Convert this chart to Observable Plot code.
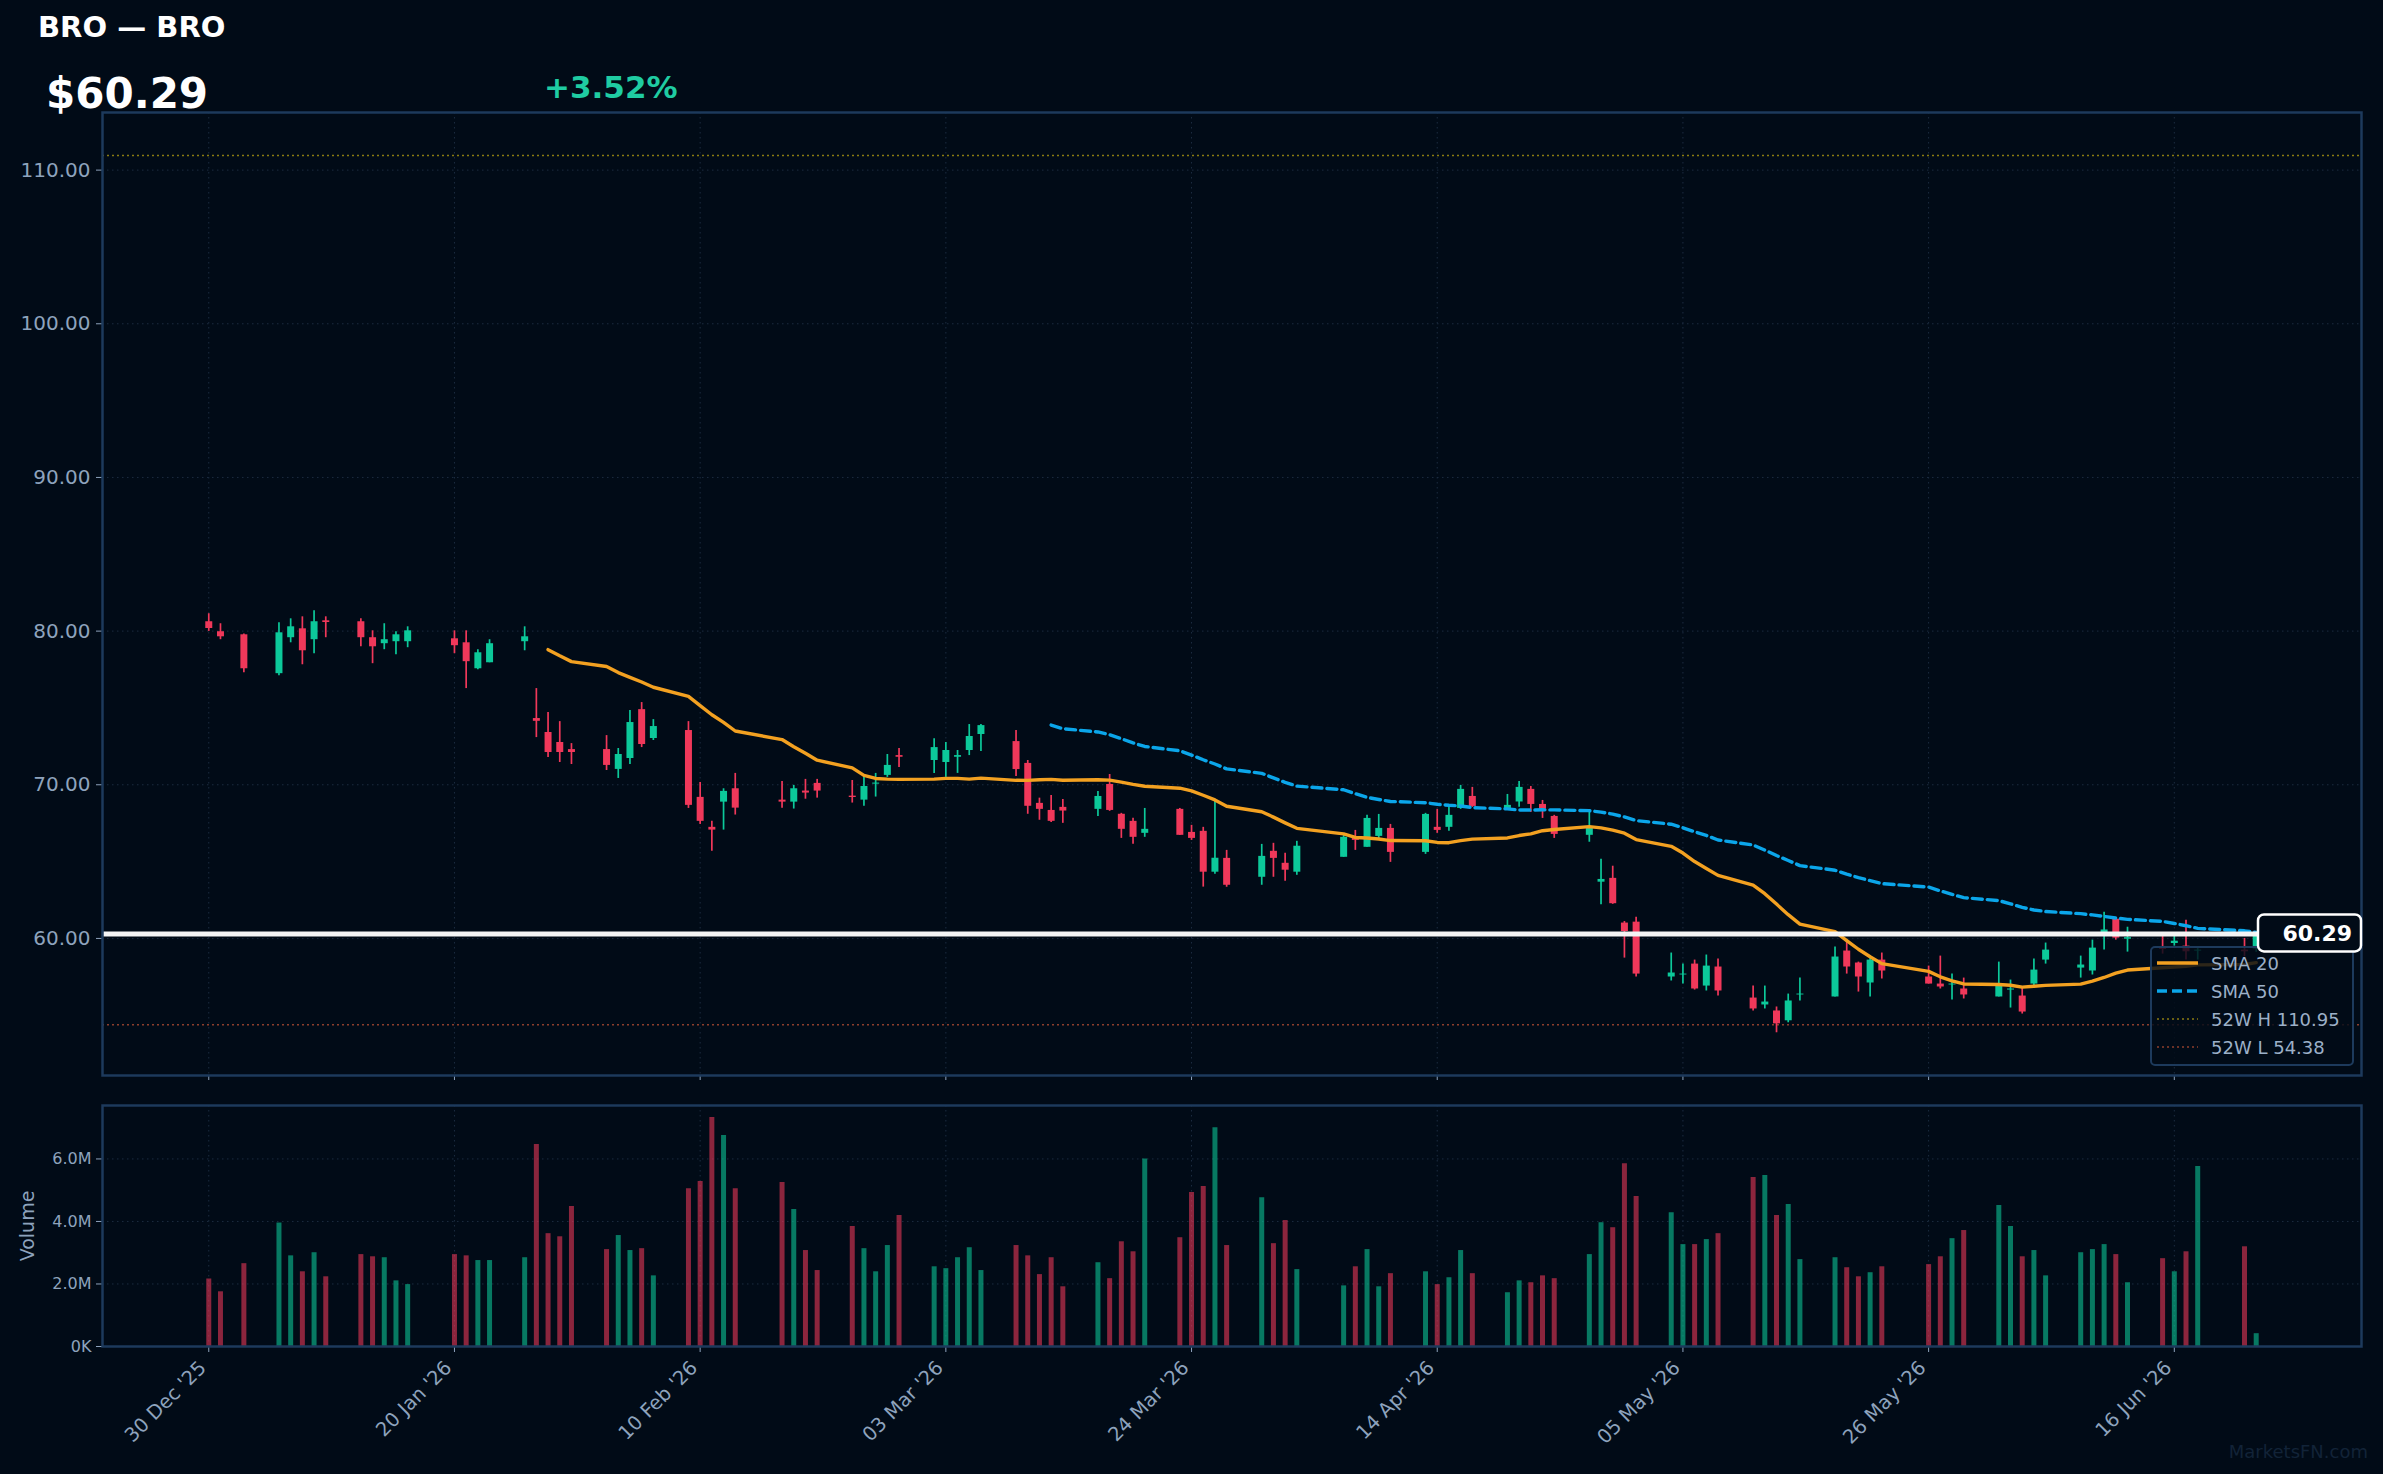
<!DOCTYPE html>
<html><head><meta charset="utf-8">
<script src="https://cdn.jsdelivr.net/npm/d3@7"></script>
<script src="https://cdn.jsdelivr.net/npm/@observablehq/plot@0.6"></script>
<style>
html,body{margin:0;padding:0;background:#010b17;}
#root{position:relative;width:2383px;height:1474px;background:#010b17;overflow:hidden;font-family:"DejaVu Sans",sans-serif;}
#root svg{position:absolute;left:0;}
</style></head><body><div id="root"></div>
<script>
// ---------- data ----------
const ticker = "BRO";
const lastPrice = 60.29;
const changeText = "+3.52%";
const high52 = 110.95;
const low52 = 54.38;
const dates = ["2025-12-30","2025-12-31","2026-01-02","2026-01-05","2026-01-06","2026-01-07","2026-01-08","2026-01-09","2026-01-12","2026-01-13","2026-01-14","2026-01-15","2026-01-16","2026-01-20","2026-01-21","2026-01-22","2026-01-23","2026-01-26","2026-01-27","2026-01-28","2026-01-29","2026-01-30","2026-02-02","2026-02-03","2026-02-04","2026-02-05","2026-02-06","2026-02-09","2026-02-10","2026-02-11","2026-02-12","2026-02-13","2026-02-17","2026-02-18","2026-02-19","2026-02-20","2026-02-23","2026-02-24","2026-02-25","2026-02-26","2026-02-27","2026-03-02","2026-03-03","2026-03-04","2026-03-05","2026-03-06","2026-03-09","2026-03-10","2026-03-11","2026-03-12","2026-03-13","2026-03-16","2026-03-17","2026-03-18","2026-03-19","2026-03-20","2026-03-23","2026-03-24","2026-03-25","2026-03-26","2026-03-27","2026-03-30","2026-03-31","2026-04-01","2026-04-02","2026-04-06","2026-04-07","2026-04-08","2026-04-09","2026-04-10","2026-04-13","2026-04-14","2026-04-15","2026-04-16","2026-04-17","2026-04-20","2026-04-21","2026-04-22","2026-04-23","2026-04-24","2026-04-27","2026-04-28","2026-04-29","2026-04-30","2026-05-01","2026-05-04","2026-05-05","2026-05-06","2026-05-07","2026-05-08","2026-05-11","2026-05-12","2026-05-13","2026-05-14","2026-05-15","2026-05-18","2026-05-19","2026-05-20","2026-05-21","2026-05-22","2026-05-26","2026-05-27","2026-05-28","2026-05-29","2026-06-01","2026-06-02","2026-06-03","2026-06-04","2026-06-05","2026-06-08","2026-06-09","2026-06-10","2026-06-11","2026-06-12","2026-06-15","2026-06-16","2026-06-17","2026-06-18","2026-06-22","2026-06-23"];
const opens = [80.61,79.96,79.76,77.23,79.57,80.15,79.44,80.67,80.61,79.57,79.18,79.31,79.31,79.50,79.24,77.55,77.94,79.31,74.31,73.40,72.75,72.29,72.29,71.00,71.71,74.89,73.01,73.53,69.18,67.23,68.87,69.74,69.00,68.87,69.59,70.09,69.26,69.00,70.04,70.61,71.90,71.58,71.45,71.79,72.23,73.27,72.81,71.39,68.79,68.33,68.53,68.40,70.02,68.08,67.62,66.84,68.40,66.90,66.97,64.31,65.21,63.98,65.67,64.89,64.31,65.28,66.58,65.93,66.64,67.16,65.60,67.23,67.23,68.46,69.24,68.46,68.88,69.70,68.72,67.94,66.71,63.66,63.91,61.00,61.06,57.49,57.62,58.33,56.90,58.14,56.12,55.67,55.28,54.64,56.32,56.19,59.18,58.40,57.10,58.59,57.49,57.03,56.97,56.71,56.19,56.64,56.25,57.03,58.59,58.07,57.88,60.25,61.25,59.95,59.46,59.67,59.50,59.17,59.24,59.30];
const highs = [81.13,80.48,79.81,80.54,80.80,80.93,81.32,80.93,80.80,80.02,80.48,79.96,80.28,80.02,80.02,78.79,79.44,80.28,76.26,74.70,74.11,72.68,73.20,72.36,74.83,75.35,74.24,74.11,70.15,67.62,69.74,70.74,70.21,69.96,70.35,70.35,70.28,70.61,70.74,71.97,72.36,73.00,72.75,72.23,73.92,73.92,73.53,71.58,69.13,69.30,69.04,69.57,70.67,68.14,67.82,68.46,68.46,67.36,67.23,68.95,65.73,66.12,66.19,65.54,66.32,66.71,67.03,68.01,68.07,67.42,68.14,68.40,68.59,69.96,69.83,69.37,70.22,69.89,68.98,68.01,68.20,65.15,64.70,61.10,61.38,59.05,58.33,58.59,58.92,58.66,56.90,56.90,55.54,56.38,57.42,59.44,59.89,58.46,58.85,59.05,58.20,58.85,57.68,57.42,58.46,57.29,56.84,58.66,59.70,58.85,59.89,61.71,61.32,60.73,60.21,60.26,61.19,59.35,60.00,60.40];
const lows = [79.98,79.44,77.29,77.10,79.24,77.81,78.53,79.57,78.98,77.88,78.79,78.46,78.92,78.53,76.26,77.49,77.94,78.72,73.07,71.77,71.45,71.32,70.93,70.41,71.32,72.42,72.88,68.46,67.42,65.67,67.05,68.03,68.48,68.42,69.06,69.13,68.81,68.61,69.20,70.48,71.13,70.74,70.48,70.74,71.90,72.16,70.54,68.08,67.69,67.55,67.49,67.94,68.27,66.51,66.13,66.58,66.71,66.38,63.34,64.18,63.33,63.46,63.98,63.72,64.11,65.28,65.73,65.93,66.45,64.95,65.47,66.84,66.97,68.40,68.53,68.33,68.53,68.20,67.81,66.51,66.26,62.19,62.22,58.72,57.49,57.23,57.03,56.64,56.58,56.25,55.28,55.41,53.86,54.51,55.93,56.19,57.68,56.51,56.19,57.36,57.03,56.71,55.99,56.06,56.19,55.47,55.08,56.77,58.33,57.42,57.62,59.24,59.89,59.11,58.98,59.50,58.59,58.59,58.81,59.10];
const closes = [80.17,79.63,77.55,79.89,80.28,78.72,80.61,80.56,79.57,78.98,79.44,79.76,80.02,79.05,78.01,78.59,79.18,79.63,74.13,72.10,72.10,72.10,71.26,71.97,74.05,72.62,73.79,68.66,67.62,67.05,69.57,68.48,68.87,69.74,69.46,69.59,69.17,69.89,70.11,71.26,71.79,72.42,72.23,71.90,73.14,73.85,70.99,68.60,68.40,67.62,68.29,69.24,68.33,67.10,66.58,67.10,66.71,66.51,64.31,65.22,63.46,65.34,65.21,64.44,66.00,66.58,66.38,67.81,67.16,65.60,68.07,67.03,68.01,69.70,68.59,68.66,69.83,68.72,68.40,66.77,67.16,63.84,62.26,60.45,57.68,57.75,57.68,56.71,58.20,56.58,55.41,55.86,54.44,55.93,56.38,58.79,58.14,57.49,58.59,57.88,57.03,56.84,57.03,56.32,57.03,56.71,55.21,57.94,59.24,58.27,59.37,60.55,60.02,60.05,59.28,59.82,59.13,59.24,59.13,60.29];
const volumesM = [2.16,1.75,2.65,3.95,2.90,2.39,3.00,2.23,2.94,2.87,2.84,2.10,1.98,2.94,2.90,2.75,2.75,2.84,6.46,3.61,3.51,4.48,3.10,3.55,3.07,3.13,2.26,5.05,5.28,7.33,6.75,5.05,5.25,4.38,3.07,2.43,3.84,3.13,2.39,3.23,4.19,2.55,2.49,2.84,3.16,2.43,3.23,2.90,2.30,2.84,1.91,2.68,2.17,3.35,3.03,6.00,3.48,4.93,5.12,7.00,3.23,4.76,3.29,4.03,2.46,1.94,2.55,3.10,1.91,2.33,2.39,1.98,2.20,3.07,2.33,1.72,2.10,2.04,2.26,2.17,2.94,3.96,3.80,5.85,4.80,4.28,3.26,3.26,3.42,3.61,5.41,5.47,4.19,4.54,2.78,2.84,2.52,2.23,2.36,2.55,2.62,2.87,3.45,3.71,4.51,3.84,2.87,3.07,2.26,3.00,3.10,3.26,2.94,2.04,2.81,2.39,3.03,5.76,3.19,0.41];
const xTickDates = ["2025-12-30","2026-01-20","2026-02-10","2026-03-03","2026-03-24","2026-04-14","2026-05-05","2026-05-26","2026-06-16"];
const priceTicks = [60,70,80,90,100,110];
const volTicks = [0,2e6,4e6,6e6];

// ---------- styles ----------
const BG = "#010b17", GRID = "#1c2c40", FRAME = "#1d3a5c", TXT = "#8ea3bd";
const UP = "#0cc99a", DOWN = "#f0385a", ORANGE = "#f3a121", BLUE = "#0ba6ea";
const HI_COL = "#8a7b12", LO_COL = "#8e3f2c";
const W = 2383;
const FONT = "DejaVu Sans";

const rows = dates.map((d,i)=>({date:new Date(d+"T00:00:00Z"),o:opens[i],h:highs[i],l:lows[i],c:closes[i],v:volumesM[i]*1e6,up:closes[i]>=opens[i]}));
function sma(k){const out=[];for(let i=k-1;i<rows.length;i++){out.push({date:rows[i].date,v:d3.mean(closes.slice(i-k+1,i+1))});}return out;}
const sma20 = sma(20), sma50 = sma(50);
const xDomain = [new Date("2025-12-20T22:00:00Z"), new Date("2026-07-02T00:00:00Z")];
const xTicks = xTickDates.map(d=>new Date(d+"T00:00:00Z"));
const col = d => d.up ? UP : DOWN;

const root = document.getElementById("root");

const price = Plot.plot({
  width: W, height: 1090,
  marginLeft: 102, marginRight: 22, marginTop: 112, marginBottom: 15,
  style: {background: "transparent", color: TXT, fontFamily: FONT, fontSize: "20px"},
  x: {type: "utc", domain: xDomain},
  y: {domain: [51.08, 113.75]},
  marks: [
    Plot.gridX({ticks: xTicks, stroke: GRID, strokeOpacity: 1, strokeDasharray: "1.5,3.5"}),
    Plot.gridY({ticks: priceTicks, stroke: GRID, strokeOpacity: 1, strokeDasharray: "1.5,3.5"}),
    Plot.axisY({ticks: priceTicks, tickFormat: d => d.toFixed(2), tickSize: 6, tickPadding: 6, label: null, stroke: TXT, fill: TXT, fontSize: 20}),
    Plot.axisX({ticks: xTicks, tickFormat: () => "", tickSize: 5, label: null, stroke: TXT}),
    Plot.ruleY([high52], {stroke: HI_COL, strokeWidth: 1.6, strokeDasharray: "2,3"}),
    Plot.ruleY([low52], {stroke: LO_COL, strokeWidth: 1.6, strokeDasharray: "2,3"}),
    Plot.ruleX(rows, {x: "date", y1: "l", y2: "h", stroke: col, strokeWidth: 1.7}),
    Plot.ruleX(rows, {x: "date", y1: "o", y2: "c", stroke: col, strokeWidth: 7}),
    Plot.lineY(sma20, {x: "date", y: "v", stroke: ORANGE, strokeWidth: 3.4}),
    Plot.lineY(sma50, {x: "date", y: "v", stroke: BLUE, strokeWidth: 3.4, strokeDasharray: "10,5"}),
    Plot.ruleY([lastPrice], {stroke: "#f4f4f4", strokeWidth: 5}),
    Plot.frame({stroke: FRAME, strokeWidth: 2.5})
  ]
});
price.style.top = "0px";
root.appendChild(price);

const vol = Plot.plot({
  width: W, height: 384,
  marginLeft: 102, marginRight: 22, marginTop: 15, marginBottom: 128,
  style: {background: "transparent", color: TXT, fontFamily: FONT, fontSize: "16px"},
  x: {type: "utc", domain: xDomain},
  y: {domain: [0, 7.71e6]},
  marks: [
    Plot.gridX({ticks: xTicks, stroke: GRID, strokeOpacity: 1, strokeDasharray: "1.5,3.5"}),
    Plot.gridY({ticks: volTicks, stroke: GRID, strokeOpacity: 1, strokeDasharray: "1.5,3.5"}),
    Plot.ruleX(rows, {x: "date", y1: 0, y2: "v", stroke: col, strokeOpacity: 0.58, strokeWidth: 5}),
    Plot.axisY({ticks: volTicks, tickFormat: d => d === 0 ? "0K" : (d/1e6).toFixed(1) + "M", tickSize: 6, tickPadding: 5, label: null, stroke: TXT, fill: TXT, fontSize: 16}),
    Plot.axisX({ticks: xTicks, tickFormat: d3.utcFormat("%d %b '%y"), tickRotate: -45, tickSize: 6, tickPadding: 6, label: null, stroke: TXT, fill: TXT, fontSize: 19.5}),
    Plot.text(["Volume"], {frameAnchor: "left", dx: -75, rotate: -90, textAnchor: "middle", fill: TXT, fontSize: 19}),
    Plot.frame({stroke: FRAME, strokeWidth: 2.5})
  ]
});
vol.style.top = "1090px";
root.appendChild(vol);
// nudge rotated date labels to sit like the reference (right edge at tick)
d3.select(vol).selectAll("[aria-label='x-axis tick label'] text").attr("transform", function(){ return (this.getAttribute("transform")||""); });
d3.select(vol).select("[aria-label='x-axis tick label']").attr("transform", function(){ return (this.getAttribute("transform")||"") + " translate(-6,6)"; });

// ---------- overlay: header, price label, legend, watermark ----------
const yPx = price.scale("y").apply(lastPrice);
const ov = d3.select(root).append("svg").attr("width", W).attr("height", 1474).style("top","0px").style("font-family", FONT);
ov.append("text").attr("x", 38).attr("y", 37).attr("fill", "#ffffff").attr("font-weight", "bold").attr("font-size", 29).text(`${ticker} — ${ticker}`);
ov.append("text").attr("x", 46).attr("y", 108).attr("fill", "#ffffff").attr("font-weight", "bold").attr("font-size", 42).text(`$${lastPrice.toFixed(2)}`);
ov.append("text").attr("x", 544).attr("y", 98).attr("fill", "#1fcca2").attr("font-weight", "bold").attr("font-size", 31).text(changeText);

// legend
const lg = ov.append("g");
lg.append("rect").attr("x", 2151).attr("y", 947).attr("width", 202).attr("height", 118).attr("rx", 4)
  .attr("fill", "rgba(1,11,23,0.82)").attr("stroke", FRAME).attr("stroke-width", 2);
const items = [
  {label: "SMA 20", stroke: ORANGE, w: 3.4, dash: null, y: 963},
  {label: "SMA 50", stroke: BLUE, w: 3.4, dash: "10,5", y: 991},
  {label: `52W H ${high52.toFixed(2)}`, stroke: HI_COL, w: 1.6, dash: "2,3", y: 1019},
  {label: `52W L ${low52.toFixed(2)}`, stroke: LO_COL, w: 1.6, dash: "2,3", y: 1047}
];
items.forEach(it => {
  lg.append("line").attr("x1", 2157).attr("x2", 2198).attr("y1", it.y).attr("y2", it.y)
    .attr("stroke", it.stroke).attr("stroke-width", it.w).attr("stroke-dasharray", it.dash);
  lg.append("text").attr("x", 2211).attr("y", it.y + 6.5).attr("fill", "#9cb0c8").attr("font-size", 18).text(it.label);
});

// last price label
ov.append("rect").attr("x", 2258).attr("y", yPx - 19).attr("width", 103).attr("height", 37).attr("rx", 6)
  .attr("fill", BG).attr("stroke", "#ffffff").attr("stroke-width", 2.5);
ov.append("text").attr("x", 2352).attr("y", yPx + 8).attr("text-anchor", "end").attr("fill", "#ffffff")
  .attr("font-weight", "bold").attr("font-size", 22).text(lastPrice.toFixed(2));

ov.append("text").attr("x", 2368).attr("y", 1458).attr("text-anchor", "end").attr("fill", "#122338").attr("font-size", 18).text("MarketsFN.com");
</script>
</body></html>
